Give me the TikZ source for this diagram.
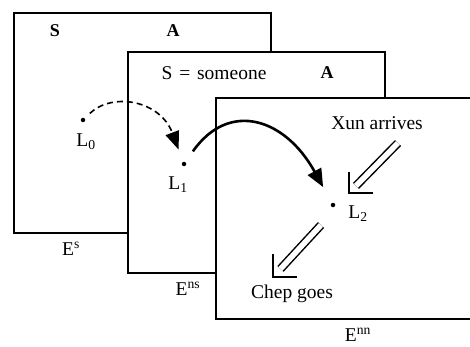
\documentclass[tikz,border=0pt]{standalone}
\usepackage{fontspec}
\setmainfont{Liberation Serif}
\usetikzlibrary{arrows.meta}
\tikzset{
  frame/.style={draw, fill=white, line width=1.5pt},
  lbl/.style={inner sep=0pt, font=\fontsize{19.5}{22}\selectfont},
  blbl/.style={lbl, font=\fontsize{18}{22}\selectfont\bfseries},
  dot/.style={circle, fill, inner sep=0pt, minimum size=4.5pt},
  hop/.style={line width=1.6pt, dash pattern=on 6pt off 4pt, -{Triangle[length=18pt,width=14pt]}},
  jump/.style={line width=2.6pt, -{Triangle[length=18pt,width=15pt]}},
  cause/.style={double, double distance=5.5pt, line width=1.5pt},
  barb/.style={line width=1.8pt, line join=miter}
}
\begin{document}
\begin{tikzpicture}[x=1pt,y=-1pt]
\useasboundingbox (0,0) rectangle (470,347);
\clip (0,0) rectangle (470,347);
% three stacked situation frames
\draw[frame] (14,13) rectangle (271,233);
\draw[frame] (128,52) rectangle (385,273);
\draw[frame] (216,98) rectangle (480,319);
% frame labels
\node[blbl] (s1) at (55,31) {S};
\node[blbl] (a1) at (173,31) {A};
\node[lbl] (s2) at (214,73) {S\hspace{0.35em}=\hspace{0.35em}someone};
\node[blbl] (a2) at (327,73) {A};
\node[lbl] (es) at (71,249) {E\textsuperscript{s}};
\node[lbl] (ens) at (188,289) {E\textsuperscript{ns}};
\node[lbl] (enn) at (358,335) {E\textsuperscript{nn}};
% locations
\node[dot] (L0) at (83,120) {};
\node[dot] (L1) at (184,164) {};
\node[dot] (L2) at (333,205) {};
\node[lbl] (l0) at (86,142) {L\textsubscript{0}};
\node[lbl] (l1) at (178,185) {L\textsubscript{1}};
\node[lbl] (l2) at (358,214) {L\textsubscript{2}};
% events
\node[lbl] (xun) at (377,123) {Xun arrives};
\node[lbl] (chep) at (292,294) {Chep goes};
\coordinate (xa) at (398,143);
\coordinate (xb) at (349,193);
\coordinate (ca) at (321,225);
\coordinate (cb) at (273,277);
% transitions between locations
\draw[hop, shorten <=7pt, shorten >=13pt] (L0) .. controls (112,92) and (160,100) .. (L1);
\draw[jump, shorten <=13pt, shorten >=18pt] (L1) .. controls (229,100) and (285,118) .. (L2);
% causal links: double shaft with an open right-angled head
\draw[cause, shorten >=10pt] (xa) -- (xb);
\draw[barb] ([yshift=21pt]xb) -- (xb) -- ([xshift=24pt]xb);
\draw[cause, shorten >=11pt] (ca) -- (cb);
\draw[barb] ([yshift=23pt]cb) -- (cb) -- ([xshift=24pt]cb);
\end{tikzpicture}
\end{document}
